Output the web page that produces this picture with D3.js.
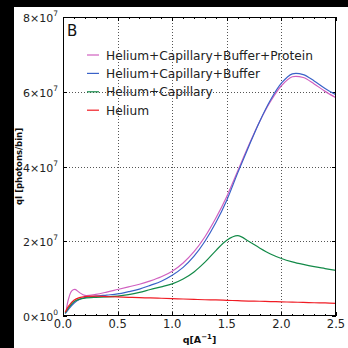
<!DOCTYPE html>
<html>
<head>
<meta charset="utf-8">
<script src="https://cdn.jsdelivr.net/npm/d3@7"></script>
<style>
  body { margin: 0; background: #fff; }
  svg { display: block; font-family: "DejaVu Sans", sans-serif; }
</style>
</head>
<body>
<script>
// q values shared by the first three series
const qBase = [0.02, 0.05, 0.1, 0.15, 0.2, 0.3, 0.4, 0.5, 0.6, 0.7, 0.8, 0.9, 1.0, 1.1, 1.2, 1.3, 1.4, 1.5, 1.6, 1.7, 1.8, 1.9, 2.0, 2.1, 2.2, 2.3, 2.4, 2.5];
// values in units of 1e6
const helium = [1.0, 2.6, 4.2, 4.9, 5.2, 5.3, 5.2, 5.1, 5.0, 4.9, 4.85, 4.75, 4.65, 4.55, 4.45, 4.35, 4.3, 4.2, 4.1, 4.0, 3.95, 3.85, 3.8, 3.7, 3.65, 3.55, 3.5, 3.4];
const heliumCap = [0.8, 2.2, 3.8, 4.5, 4.8, 5.0, 5.1, 5.3, 5.7, 6.3, 7.1, 7.8, 8.6, 9.9, 11.8, 14.4, 17.5, 20.3, 21.5, 20.0, 18.2, 16.6, 15.4, 14.5, 13.8, 13.2, 12.7, 12.2];
const heliumCapBuf = [0.6, 1.8, 3.4, 4.4, 4.9, 5.3, 5.6, 5.9, 6.5, 7.2, 8.2, 9.3, 10.9, 13.0, 16.0, 20.0, 25.0, 31.0, 38.3, 45.3, 52.0, 57.8, 62.3, 64.8, 64.6, 62.9, 60.9, 59.2];
// protein series has its own q grid (bump at low q)
const qProt = [0.03, 0.05, 0.08, 0.11, 0.15, 0.2, 0.3, 0.4, 0.5, 0.6, 0.7, 0.8, 0.9, 1.0, 1.1, 1.2, 1.3, 1.4, 1.5, 1.6, 1.7, 1.8, 1.9, 2.0, 2.1, 2.2, 2.3, 2.4, 2.5];
const heliumCapBufProt = [1.5, 4.5, 6.7, 7.1, 6.3, 5.5, 5.8, 6.4, 7.1, 7.8, 8.5, 9.4, 10.5, 12.0, 14.2, 17.2, 21.2, 26.2, 32.0, 38.8, 45.6, 52.0, 57.4, 61.6, 64.0, 63.8, 62.1, 60.1, 58.4];

const seriesNames = ["Helium+Capillary+Buffer+Protein", "Helium+Capillary+Buffer", "Helium+Capillary", "Helium"];
const seriesColors = ["#d060c0", "#3a62c8", "#138a48", "#f01c24"];

const xTicks = [0, 0.5, 1.0, 1.5, 2.0, 2.5];
const yTicks = [0, 2e7, 4e7, 6e7, 8e7];
const yTickMant = ["0", "2", "4", "6", "8"];
const yTickExp = ["0", "7", "7", "7", "7"];

const W = 348, H = 348;
const pLeft = 63, pRight = 336, pTop = 17, pBottom = 316;

const svg = d3.select("body").append("svg")
  .attr("width", W).attr("height", H);

// black frame strips
svg.append("rect").attr("x", 0).attr("y", 0).attr("width", W).attr("height", 7).attr("fill", "#000");
svg.append("rect").attr("x", 0).attr("y", 0).attr("width", 14).attr("height", H).attr("fill", "#000");

const x = d3.scaleLinear().domain([0, 2.5]).range([pLeft, pRight]);
const y = d3.scaleLinear().domain([0, 8e7]).range([pBottom, pTop]);
const px = v => Math.round(v) + 0.5;

// grid
const grid = svg.append("g")
  .attr("stroke", "#555").attr("stroke-width", 1).attr("stroke-dasharray", "1,2");
grid.selectAll(".gx").data(xTicks.slice(1, -1)).join("line")
  .attr("x1", d => px(x(d))).attr("x2", d => px(x(d)))
  .attr("y1", pTop).attr("y2", pBottom);
grid.selectAll(".gy").data(yTicks.slice(1, -1)).join("line")
  .attr("y1", d => px(y(d))).attr("y2", d => px(y(d)))
  .attr("x1", pLeft).attr("x2", pRight);

// ticks, pointing inward on all four sides
const minor = d3.range(0, 2.51, 0.1).filter(v => Math.abs(v * 2 - Math.round(v * 2)) > 1e-6);
const tk = svg.append("g").attr("stroke", "#000").attr("stroke-width", 1);
tk.selectAll(".mb").data(minor).join("line")
  .attr("x1", d => px(x(d))).attr("x2", d => px(x(d)))
  .attr("y1", pBottom).attr("y2", pBottom - 2);
tk.selectAll(".mt").data(minor).join("line")
  .attr("x1", d => px(x(d))).attr("x2", d => px(x(d)))
  .attr("y1", pTop).attr("y2", pTop + 2);
tk.selectAll(".Mb").data(xTicks).join("line")
  .attr("x1", d => px(x(d))).attr("x2", d => px(x(d)))
  .attr("y1", pBottom).attr("y2", pBottom - 4);
tk.selectAll(".Mt").data(xTicks).join("line")
  .attr("x1", d => px(x(d))).attr("x2", d => px(x(d)))
  .attr("y1", pTop).attr("y2", pTop + 4);
tk.selectAll(".Ml").data(yTicks).join("line")
  .attr("y1", d => px(y(d))).attr("y2", d => px(y(d)))
  .attr("x1", pLeft).attr("x2", pLeft + 4);
tk.selectAll(".Mr").data(yTicks).join("line")
  .attr("y1", d => px(y(d))).attr("y2", d => px(y(d)))
  .attr("x1", pRight).attr("x2", pRight - 4);

// curves
const line = d3.line()
  .x(d => x(d[0]))
  .y(d => y(d[1] * 1e6))
  .curve(d3.curveCatmullRom.alpha(0.5));

const seriesData = [
  d3.zip(qProt, heliumCapBufProt),
  d3.zip(qBase, heliumCapBuf),
  d3.zip(qBase, heliumCap),
  d3.zip(qBase, helium)
];

svg.append("clipPath").attr("id", "plotclip")
  .append("rect").attr("x", pLeft).attr("y", pTop).attr("width", pRight - pLeft).attr("height", pBottom - pTop);

const curves = svg.append("g").attr("clip-path", "url(#plotclip)");
// plotted in legend order, so helium ends up on top
seriesData.forEach((d, i) => {
  curves.append("path")
    .datum(d)
    .attr("fill", "none")
    .attr("stroke", seriesColors[i])
    .attr("stroke-width", 1.2)
    .attr("d", line);
});

// frame
svg.append("rect")
  .attr("x", pLeft + 0.5).attr("y", pTop + 0.5)
  .attr("width", pRight - pLeft - 1).attr("height", pBottom - pTop - 1)
  .attr("fill", "none").attr("stroke", "#000").attr("stroke-width", 1);

// x tick labels
svg.append("g").selectAll("text").data(xTicks).join("text")
  .attr("x", d => x(d)).attr("y", 328)
  .attr("text-anchor", "middle")
  .attr("font-size", 11.5).attr("fill", "#222")
  .text(d => d.toFixed(1));

// y tick labels like 6×10^7
const yl = svg.append("g").selectAll("text").data(yTicks).join("text")
  .attr("x", 58).attr("y", d => y(d) + 5)
  .attr("text-anchor", "end")
  .attr("font-size", 11).attr("fill", "#222");
yl.append("tspan").text((d, i) => yTickMant[i] + "\u00d710");
yl.append("tspan").attr("font-size", 7.5).attr("dy", -6).text((d, i) => yTickExp[i]);

// axis labels
const xl = svg.append("text")
  .attr("x", x(1.25)).attr("y", 343)
  .attr("text-anchor", "middle")
  .attr("font-size", 9.5).attr("font-weight", "bold").attr("fill", "#111");
xl.append("tspan").text("q[A");
xl.append("tspan").attr("font-size", 7).attr("dy", -4).text("\u22121");
xl.append("tspan").attr("dy", 4).text("]");

svg.append("text")
  .attr("transform", `translate(22, ${(pTop + pBottom) / 2}) rotate(-90)`)
  .attr("text-anchor", "middle")
  .attr("font-size", 8.5).attr("font-weight", "bold").attr("fill", "#111")
  .text("qI [photons/bin]");

// panel letter
svg.append("text")
  .attr("x", 67).attr("y", 36)
  .attr("font-size", 15).attr("fill", "#111")
  .text("B");

// legend
const lg = svg.append("g");
seriesNames.forEach((name, i) => {
  const cy = 55 + i * 18.4;
  lg.append("line")
    .attr("x1", 87).attr("x2", 99).attr("y1", cy).attr("y2", cy)
    .attr("stroke", seriesColors[i]).attr("stroke-width", 1.2);
  lg.append("text")
    .attr("x", 106).attr("y", cy + 4.5)
    .attr("font-size", 12.2).attr("fill", "#222")
    .text(name);
});
</script>
</body>
</html>
